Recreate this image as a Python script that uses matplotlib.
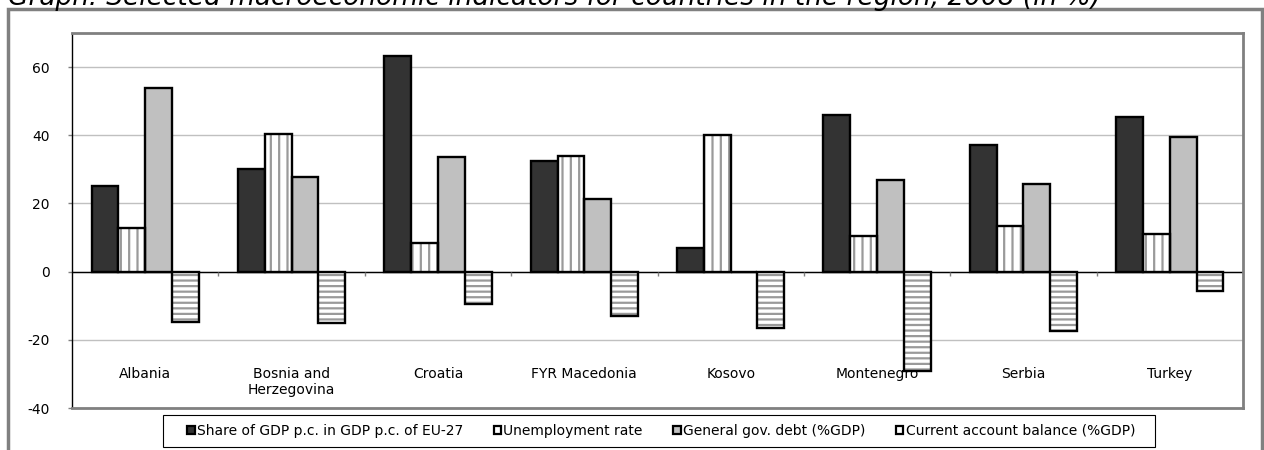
import matplotlib
matplotlib.use('Agg')
import matplotlib.pyplot as plt
from matplotlib.patches import Patch, Rectangle
import numpy as np

# Дані з графіка
countries = ['Albania', 'Bosnia and\nHerzegovina', 'Croatia', 'FYR Macedonia',
             'Kosovo', 'Montenegro', 'Serbia', 'Turkey']
gdp_share = [25.0, 30.0, 63.2, 32.5, 7.0, 46.0, 37.0, 45.5]
unemployment = [12.7, 40.5, 8.3, 33.8, 40.0, 10.5, 13.5, 11.0]
gov_debt = [53.8, 27.7, 33.5, 21.3, 0.0, 26.8, 25.7, 39.5]
current_account = [-14.8, -15.0, -9.5, -13.0, -16.5, -29.0, -17.5, -5.7]

labels = ['Share of GDP p.c. in GDP p.c. of EU-27', 'Unemployment rate',
          'General gov. debt (%GDP)', 'Current account balance (%GDP)']
title = 'Graph: Selected macroeconomic indicators for countries in the region, 2008 (in %)'

plt.rcParams['font.family'] = 'DejaVu Sans'
plt.rcParams['axes.unicode_minus'] = False
plt.rcParams['hatch.linewidth'] = 1.6

W, H = 1264, 450
fig = plt.figure(figsize=(W / 100, H / 100), dpi=100)
ax = fig.add_axes([72 / W, 1 - 408 / H, (1243 - 72) / W, (408 - 33) / H])

x = np.arange(len(countries))
w = 0.183
series = [gdp_share, unemployment, gov_debt, current_account]
faces = ['#333333', 'white', '#c0c0c0', 'white']
hatches = [None, '||', None, '---']

for i, (vals, fc, h) in enumerate(zip(series, faces, hatches)):
    pos = x + (i - 1.5) * w
    if h:
        ax.bar(pos, vals, w, color=fc, hatch=h, edgecolor='#9a9a9a', linewidth=0, zorder=3)
        ax.bar(pos, vals, w, fill=False, edgecolor='black', linewidth=1.7, zorder=4)
    else:
        ax.bar(pos, vals, w, color=fc, edgecolor='black', linewidth=1.7, zorder=3)

ax.set_xlim(-0.5, 7.5)
ax.set_ylim(-40, 70)
ax.set_yticks([-40, -20, 0, 20, 40, 60])
ax.yaxis.grid(True, color='#c0c0c0', linewidth=1)
ax.set_axisbelow(True)
ax.set_xticks([])
ax.tick_params(axis='y', length=3, width=1, color='#808080', pad=13, labelsize=10)

ax.axhline(0, color='black', linewidth=1, zorder=2)
ax.vlines(x[:-1] + 0.5, -1.2, 0, color='#808080', linewidth=1, zorder=2)

for i, c in enumerate(countries):
    ax.text(i, -28, c, ha='center', va='top', fontsize=10, zorder=2)

for s in ['top', 'right', 'bottom']:
    ax.spines[s].set_color('#808080')
    ax.spines[s].set_linewidth(2)
ax.spines['left'].set_color('black')
ax.spines['left'].set_linewidth(1)

# Легенда: маркери-квадратики, рамка окремо
handles = [Patch(facecolor=fc, edgecolor='black', linewidth=1.6) for fc in faces]
leg = fig.legend(handles, labels, loc='center', bbox_to_anchor=(661 / W, 1 - 431 / H),
                 ncol=4, fontsize=10, frameon=False,
                 handlelength=0.55, handleheight=0.55, handletextpad=0.15,
                 columnspacing=2.2, borderpad=0.3)
fig.patches.append(Rectangle((163 / W, 1 - 447 / H), (1155 - 163) / W, 32 / H,
                             transform=fig.transFigure, fill=False,
                             edgecolor='black', linewidth=0.8))

# Зовнішня рамка
fig.patches.append(Rectangle((8 / W, -0.1), (1262 - 8) / W, 1.1 - 9 / H,
                             transform=fig.transFigure, fill=False,
                             edgecolor='#808080', linewidth=2.5))

fig.text(8 / W, 1 - 5 / H, title, ha='left', va='baseline', fontsize=19,
         style='italic')

fig.savefig('out.png', dpi=100)
